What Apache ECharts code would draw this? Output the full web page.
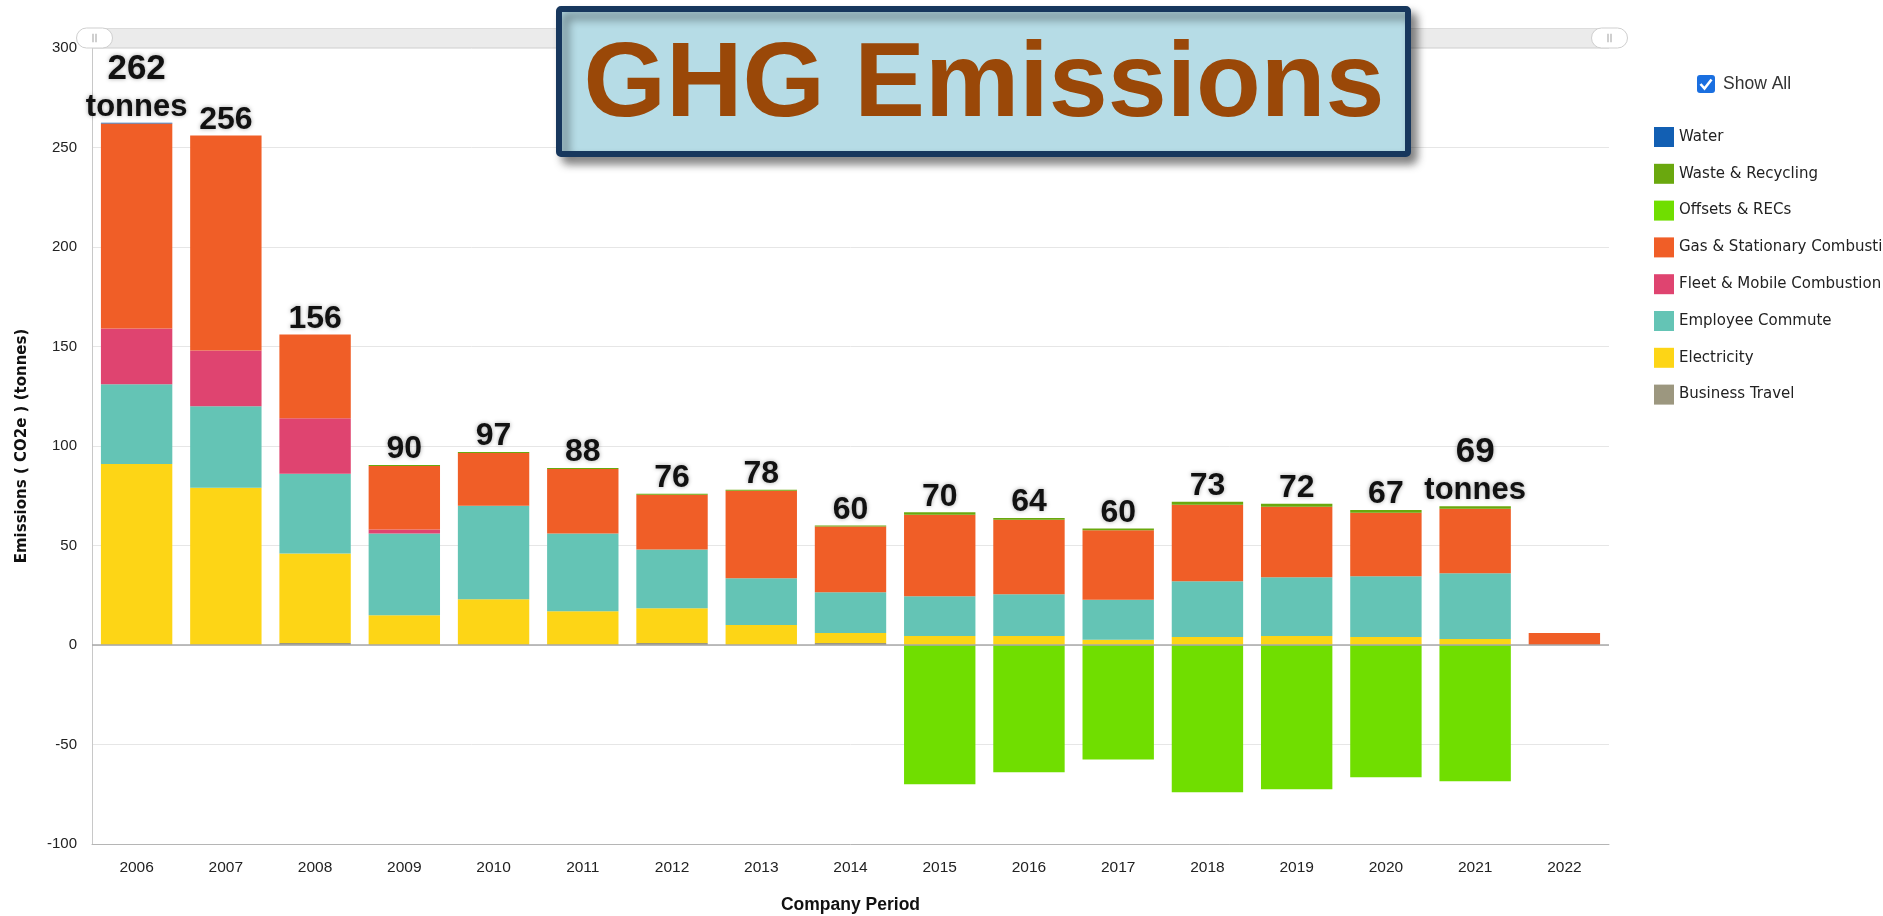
<!DOCTYPE html>
<html lang="en">
<head>
    <meta charset="UTF-8">
    <title>GHG Emissions</title>
    <style>
        html, body { margin: 0; padding: 0; background: #fff; }
        #main { width: 1883px; height: 916px; }
    </style>
    <script src="https://cdn.jsdelivr.net/npm/echarts@6/dist/echarts.min.js"></script>
</head>
<body>
<div id="main"></div>
<script>
    // data (tonnes CO2e)
    const years = ['2006', '2007', '2008', '2009', '2010', '2011', '2012', '2013', '2014',
        '2015', '2016', '2017', '2018', '2019', '2020', '2021', '2022']
    const businessTravel = [0, 0, 1, 0, 0, 0, 1, 0, 1, 0, 0, 0, 0, 0, 0, 0, 0]
    const electricity = [91, 79, 45, 15, 23, 17, 17.5, 10, 5, 4.5, 4.5, 2.7, 4, 4.5, 4, 3, 0]
    const employeeCommute = [40, 41, 40, 41, 47, 39, 29.5, 23.5, 20.5, 20, 21, 20, 28, 29.5, 30.5, 33, 0]
    const fleetMobile = [28, 28, 28, 2, 0, 0, 0, 0, 0, 0, 0, 0, 0, 0, 0, 0, 0]
    const gasStationary = [103, 108, 42, 32, 26.5, 32.5, 27.5, 44, 33, 41, 37.5, 35, 38.5, 35.5, 32, 32.5, 6]
    const offsetsRecs = [0, 0, 0, 0, 0, 0, 0, 0, 0, -70, -64, -57.5, -74, -72.5, -66.5, -68.5, 0]
    const wasteRecycling = [0, 0, 0, 0.5, 0.5, 0.5, 0.5, 0.5, 0.5, 1.2, 0.8, 0.8, 1.5, 1.5, 1.3, 1.2, 0]
    const water = [0.5, 0, 0, 0, 0, 0, 0, 0, 0, 0, 0, 0, 0, 0, 0, 0, 0]
    // annotation numbers written over the bars
    const totalLabels = [262, 256, 156, 90, 97, 88, 76, 78, 60, 70, 64, 60, 73, 72, 67, 69, null]
    const tonnesAt = ['2006', '2021']
    const yTicks = { min: -100, max: 300, step: 50 }

    const stacks = [
        { name: 'Business Travel', data: businessTravel, color: '#9c977f' },
        { name: 'Electricity', data: electricity, color: '#fdd516' },
        { name: 'Employee Commute', data: employeeCommute, color: '#64c4b5' },
        { name: 'Fleet & Mobile Combustion', data: fleetMobile, color: '#df4470' },
        { name: 'Gas & Stationary Combustion', data: gasStationary, color: '#f05e27' },
        { name: 'Offsets & RECs', data: offsetsRecs, color: '#70de00' },
        { name: 'Waste & Recycling', data: wasteRecycling, color: '#6aa80e' },
        { name: 'Water', data: water, color: '#125fb3' }
    ]

    // top of the positive stack, where the annotation sits
    const stackTops = years.map((y, i) => stacks.reduce((s, k) => s + Math.max(0, k.data[i]), 0))

    const labelFont = "'Liberation Sans', Arial, sans-serif"
    const axisFont = "'Liberation Sans', Arial, sans-serif"
    const glow = { textShadowColor: 'rgba(0,0,0,0.35)', textShadowBlur: 4 }

    let myChart = echarts.init(document.getElementById('main'))

    let series = stacks.map((k, idx) => ({
        name: k.name,
        type: 'bar',
        stack: 'ghg',
        barCategoryGap: '20%',
        itemStyle: { color: k.color },
        data: k.data,
        markLine: idx === 0 ? {
            silent: true,
            symbol: 'none',
            label: { show: false },
            lineStyle: { color: '#a8a8a8', width: 1.5, type: 'solid' },
            data: [{ yAxis: 0 }]
        } : undefined
    }))

    series.push({
        name: 'totals',
        type: 'line',
        data: stackTops.map((v, i) => totalLabels[i] == null ? '-' : v),
        symbol: 'circle',
        symbolSize: 1,
        itemStyle: { color: 'rgba(0,0,0,0)' },
        lineStyle: { opacity: 0 },
        silent: true,
        z: 10,
        label: {
            show: true,
            position: 'top',
            distance: 0,
            formatter: p => {
                let n = totalLabels[p.dataIndex]
                if (tonnesAt.includes(p.name)) return '{big|' + n + '}\n{t|tonnes}'
                return '{n|' + n + '}'
            },
            rich: {
                n: Object.assign({ fontFamily: labelFont, fontWeight: 'bold', fontSize: 32, color: '#111', lineHeight: 30 }, glow),
                big: Object.assign({ fontFamily: labelFont, fontWeight: 'bold', fontSize: 35, color: '#111', lineHeight: 46 }, glow),
                t: Object.assign({ fontFamily: labelFont, fontWeight: 'bold', fontSize: 31, color: '#111', lineHeight: 30 }, glow)
            }
        }
    })

    let option = {
        animation: false,
        backgroundColor: '#fff',
        grid: { left: 92, right: 274, top: 48, bottom: 72, outerBoundsMode: 'none' },
        legend: {
            orient: 'vertical',
            left: 1654,
            top: 127,
            padding: 0,
            itemWidth: 20,
            itemHeight: 20,
            itemGap: 16.8,
            icon: 'rect',
            data: ['Water', 'Waste & Recycling', 'Offsets & RECs', 'Gas & Stationary Combustion',
                'Fleet & Mobile Combustion', 'Employee Commute', 'Electricity', 'Business Travel'],
            textStyle: { fontFamily: "'DejaVu Sans', Verdana, sans-serif", fontSize: 15, color: '#222' }
        },
        dataZoom: [{
            type: 'slider',
            xAxisIndex: 0,
            start: 0,
            end: 100,
            left: 92,
            right: 274,
            top: 28,
            height: 20,
            z: 2,
            showDetail: false,
            showDataShadow: false,
            brushSelect: false,
            moveHandleSize: 0,
            backgroundColor: '#f0f0f0',
            fillerColor: '#ebebeb',
            borderColor: '#dddddd',
            handleIcon: 'path://M10,0 H26 A10,10 0 0 1 26,20 H10 A10,10 0 0 1 10,0 Z M16,6 V14 H17 V6 Z M19,6 V14 H20 V6 Z',
            handleSize: '180%',
            handleStyle: { color: '#ffffff', borderColor: '#cfcfcf', borderWidth: 1 },
            emphasis: { handleStyle: { color: '#ffffff', borderColor: '#cfcfcf' } }
        }],
        xAxis: {
            type: 'category',
            data: years,
            name: 'Company Period',
            nameLocation: 'middle',
            nameGap: 52,
            nameTextStyle: { fontFamily: axisFont, fontWeight: 'bold', fontSize: 17.5, color: '#111' },
            axisLine: { onZero: false, lineStyle: { color: '#b5b5b5' } },
            axisTick: { show: false },
            axisLabel: { fontFamily: axisFont, fontSize: 15.5, color: '#222', margin: 16 }
        },
        yAxis: {
            type: 'value',
            min: yTicks.min,
            max: yTicks.max,
            interval: yTicks.step,
            name: 'Emissions ( CO2e ) (tonnes)',
            nameLocation: 'middle',
            nameGap: 62,
            nameTextStyle: { fontFamily: "'DejaVu Sans', Verdana, sans-serif", fontWeight: 'bold', fontSize: 15, color: '#111' },
            axisLine: { show: true, lineStyle: { color: '#c8c8c8' } },
            axisTick: { show: false },
            axisLabel: { fontFamily: axisFont, fontSize: 15, color: '#222', margin: 15 },
            splitLine: { lineStyle: { color: '#e6e6e6' } }
        },
        graphic: [
            {
                type: 'rect',
                z: 100,
                shape: { x: 559, y: 9, width: 849, height: 145, r: 2 },
                style: {
                    fill: '#b6dce6', stroke: '#17375d', lineWidth: 6,
                    shadowBlur: 10, shadowOffsetX: 6, shadowOffsetY: 7, shadowColor: 'rgba(0,0,0,0.45)'
                }
            },
            {
                type: 'text',
                z: 101,
                x: 984,
                y: 87,
                style: {
                    text: 'GHG Emissions',
                    fill: '#9a4808',
                    fontFamily: "'Liberation Sans', Arial, sans-serif",
                    fontWeight: 'bold',
                    fontSize: 106,
                    align: 'center',
                    verticalAlign: 'middle'
                }
            },
            {
                type: 'rect',
                z: 100,
                shape: { x: 1697, y: 75, width: 18, height: 18, r: 3 },
                style: { fill: '#1a6fe0' }
            },
            {
                type: 'polyline',
                z: 101,
                shape: { points: [[1700.5, 84], [1704.5, 88.5], [1711.5, 79.5]] },
                style: { stroke: '#fff', lineWidth: 2.6, fill: null }
            },
            {
                type: 'text',
                z: 100,
                x: 1723,
                y: 84,
                style: {
                    text: 'Show All', fill: '#333', fontFamily: axisFont, fontSize: 17.5,
                    verticalAlign: 'middle'
                }
            }
        ],
        series
    }

    myChart.setOption(option)
</script>
</body>
</html>
